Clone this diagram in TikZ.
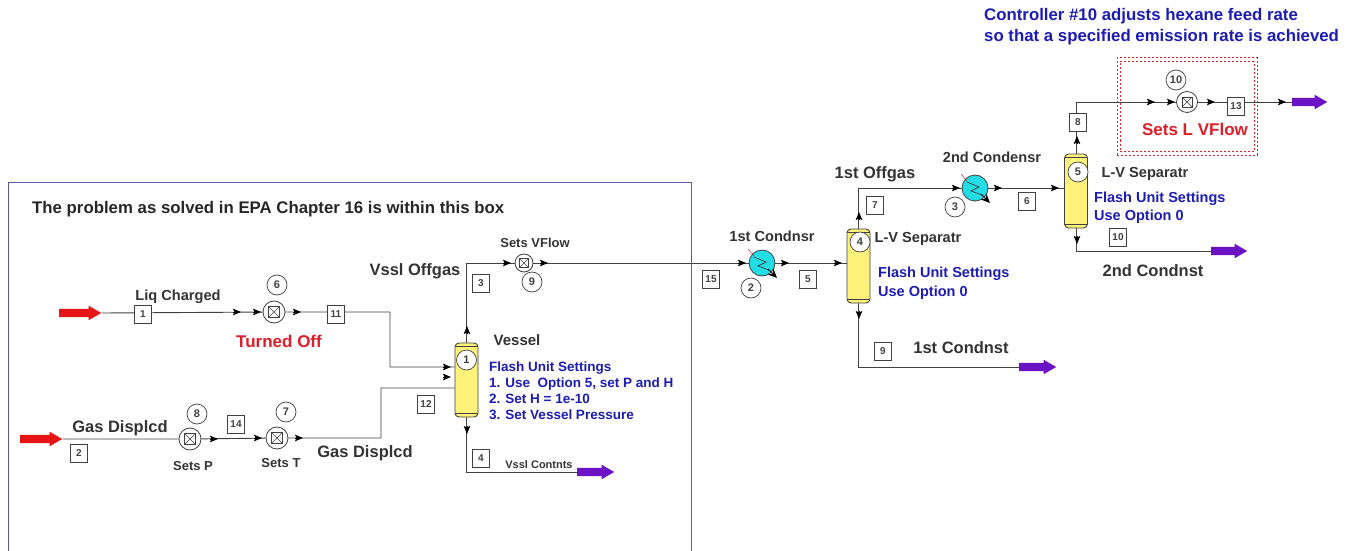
\documentclass[tikz,border=0pt]{standalone}
\usepackage{fontspec}
\setmainfont{Liberation Sans}
\usetikzlibrary{arrows.meta, backgrounds, shapes.arrows}
\definecolor{BoxB}  {HTML}{5A5AA8}
\definecolor{Note}  {HTML}{1C1CB4}
\definecolor{Warn}  {HTML}{DC1E28}
\definecolor{Feed}  {HTML}{E61414}
\definecolor{Prod}  {HTML}{6A12C4}
\definecolor{Shell} {HTML}{FFF27A}
\definecolor{Cool}  {HTML}{22DDE6}
\definecolor{LGray} {HTML}{404040}
\tikzset{
  ln/.style={line width=0.9pt, draw=LGray},
  flo/.style={-{Stealth[length=8pt,width=6.5pt,inset=1.5pt]}, line width=0.9pt, draw=black},
  sid/.style={
    rectangle, draw=LGray, fill=white, line width=0.8pt,
    font=\bfseries\fontsize{10}{11}\selectfont, text=LGray,
    minimum width=17pt, minimum height=18pt, inner sep=0pt,
  },
  uid/.style={
    circle, draw=LGray, fill=white, line width=0.7pt,
    font=\bfseries\fontsize{11}{12}\selectfont, text=LGray,
    minimum size=20pt, inner sep=0pt,
  },
  % valve with its crossed square
  vlv/.style={
    circle, draw=LGray, fill=white, line width=0.8pt,
    minimum size=#1, inner sep=0pt,
    path picture={
      \draw[line width=0.6pt] ([shift={(-0.24*#1,-0.24*#1)}]path picture bounding box.center)
        rectangle ([shift={(0.24*#1,0.24*#1)}]path picture bounding box.center);
      \draw[line width=0.5pt] ([shift={(-0.24*#1,-0.24*#1)}]path picture bounding box.center)
        -- ([shift={(0.24*#1,0.24*#1)}]path picture bounding box.center);
      \draw[line width=0.5pt] ([shift={(-0.24*#1,0.24*#1)}]path picture bounding box.center)
        -- ([shift={(0.24*#1,-0.24*#1)}]path picture bounding box.center);
    },
  },
  vssl/.style={
    rectangle, rounded corners=4pt, draw=LGray, fill=Shell, line width=0.9pt,
    minimum width=23pt, minimum height=74pt, inner sep=0pt,
    path picture={
      \draw[line width=0.6pt] ([yshift=-3.5pt]path picture bounding box.north west)
        -- ([yshift=-3.5pt]path picture bounding box.north east);
      \draw[line width=0.6pt] ([yshift=3.5pt]path picture bounding box.south west)
        -- ([yshift=3.5pt]path picture bounding box.south east);
    },
  },
  cnd/.style={
    circle, draw=LGray, fill=Cool, line width=0.8pt,
    minimum size=26pt, inner sep=0pt,
  },
  feedarr/.style={
    single arrow, draw=none, fill=#1, minimum height=42pt, minimum width=0pt,
    inner ysep=4pt, inner xsep=0pt, anchor=tail,
    single arrow head extend=3pt, single arrow tip angle=60,
  },
  big/.style={font=\bfseries\fontsize{16.5}{18}\selectfont, text=black!80, inner sep=0pt},
  sml/.style={font=\bfseries\fontsize{14.6}{16}\selectfont, text=black!80, inner sep=0pt},
  tny/.style={font=\bfseries\fontsize{13}{15}\selectfont, text=black!80, inner sep=0pt},
  setg/.style 2 args={font=\bfseries\fontsize{#1}{#2}\selectfont, text=Note, align=left, anchor=north west, inner sep=0pt},
  warn/.style={font=\bfseries\fontsize{17}{19}\selectfont, text=Warn, inner sep=0pt},
  dotbx/.style={draw=Warn, dash pattern=on 2pt off 2pt, line width=1pt, inner sep=0pt},
}
\begin{document}
\begin{tikzpicture}[x=1pt,y=-1pt]
  \useasboundingbox (0,0) rectangle (1357,551);

  % problem box, open at the bottom
  \coordinate (bxA) at (8,551);
  \coordinate (bxB) at (691,551);
  \draw[draw=BoxB, line width=1pt] (bxA) |- (691,182) -- (bxB);
  \node[font=\bfseries\fontsize{16.8}{18}\selectfont, text=black!85, anchor=west, inner sep=0pt] (ttl) at (32,209)
    {The problem as solved in EPA Chapter 16 is within this box};
  \node[setg={16.8}{21}] (ctlnote) at (984,8)
    {Controller \#10 adjusts hexane feed rate\\so that a specified emission rate is achieved};

  % feeds and products
  \node[feedarr=Feed] (fdA) at (59,313) {};
  \node[feedarr=Feed] (fdB) at (20,439) {};
  \node[feedarr=Prod, minimum height=37pt] (prA) at (577,472) {};
  \node[feedarr=Prod, minimum height=37pt] (prB) at (1019,367) {};
  \node[feedarr=Prod, minimum height=36pt] (prC) at (1211,251) {};
  \node[feedarr=Prod, minimum height=35pt] (prD) at (1292,102) {};

  % units
  \node[vssl] (vA) at (466.5,380) {};
  \node[vssl] (vB) at (858.5,266) {};
  \node[vssl] (vC) at (1076,191) {};
  \node[cnd] (cA) at (762,263) {};
  \node[cnd] (cB) at (975,188) {};
  \foreach \nm in {cA,cB}{
    \draw[red!80!black, line width=0.4pt] ([shift={(-14,-14)}]\nm.center) -- ([shift={(-8,-7)}]\nm.center);
    \draw[LGray, line width=0.7pt] ([shift={(-8,-6)}]\nm.center) -- ([shift={(4,-1)}]\nm.center)
      -- ([shift={(-4,3)}]\nm.center) -- ([shift={(7,7)}]\nm.center);
    \draw[black, line width=0.9pt, -{Stealth[length=9pt,width=8pt]}] ([shift={(6,6)}]\nm.center) -- ([shift={(15,15)}]\nm.center);
  }
  \node[vlv=22pt] (v6) at (274,312) {};
  \node[vlv=22pt] (v8) at (190,439) {};
  \node[vlv=22pt] (v7) at (277,438) {};
  \node[vlv=18pt] (v9) at (524,263) {};
  \node[vlv=21pt] (v10) at (1187,102) {};

  % unit numbers
  \foreach \nm/\lbl/\x/\y in {uA/1/466.5/360, uB/2/751/288, uC/3/955/207, uD/4/860/242,
    uE/5/1078/172, uF/6/277/285, uG/7/286/412, uH/8/197/414, uI/9/532/282, uJ/10/1176/80}{
    \node[uid] (\nm) at (\x,\y) {\lbl};
  }

  % stream numbers
  \foreach \nm/\lbl/\x/\y in {s1/1/143/314.5, s2/2/79/453, s3/3/481/283, s4/4/481/458, s5/5/808/279,
    s6/6/1027/201, s7/7/875/205, s8/8/1078/122, s9/9/883/351, s10/10/1118/237, s11/11/336/314,
    s12/12/426/404, s13/13/1236/106, s14/14/236/424, s15/15/711/279}{
    \node[sid] (\nm) at (\x,\y) {\lbl};
  }

  \node[dotbx, minimum width=140pt, minimum height=97pt] (rng) at (1187,106.5) {};
  \node[dotbx, minimum width=134pt, minimum height=90pt] (rngB) at (1187,106.5) {};

  % bends
  \coordinate (bA) at (390,367);
  \coordinate (bB) at (381,388);

  \begin{scope}[on background layer]
    \draw[ln] (fdA.tip) -- (v6) -- (v6 -| bA) -- (bA) -- (bA -| vA.west);
    \draw[ln] (fdB.tip) -- (v8) -- (v7) -- (v7 -| bB) -- (bB) -- (bB -| vA.west);
    \draw[ln] (vA.north) -- (vA |- v9) -- (v9) -- (cA) -- (vB.west |- cA);
    \draw[ln] (vA.south) |- (prA.tail);
    \draw[ln] (vB.north) -- (vB |- cB) -- (cB) -- (vC.west |- cB);
    \draw[ln] (vB.south) |- (prB.tail);
    \draw[ln] (vC.north) -- (vC |- v10) -- (v10) -- (prD.tail);
    \draw[ln] (vC.south) |- (prC.tail);
  \end{scope}

  % flow marks
  \foreach \x/\y in {237/312, 257/312, 297/312, 447/367, 447/377, 214/439, 258/438, 299/438,
    507/263, 544/263, 742/263, 785/263, 838/263, 956/188, 998/188, 1055/188,
    1151/102, 1171/102, 1211/102, 1282/102}{
    \draw[flo] (\x-4,\y) -- (\x+4,\y);
  }
  \foreach \x/\y in {467/330, 859/216, 1077/140}{
    \draw[flo] (\x,\y+4) -- (\x,\y-4);
  }
  \foreach \x/\y in {467/430, 859/315, 1077/240}{
    \draw[flo] (\x,\y-4) -- (\x,\y+4);
  }

  % stream names
  \node[sml] (nLiq) at (178,297) {Liq Charged};
  \node[big] (nGasA) at (120,428) {Gas Displcd};
  \node[big] (nGasB) at (365,453) {Gas Displcd};
  \node[big] (nOffA) at (415,271) {Vssl Offgas};
  \node[big] (nOffB) at (875,174) {1st Offgas};
  \node[big] (nCdA) at (961,348) {1st Condnst};
  \node[big] (nCdB) at (1153,271) {2nd Condnst};
  \node[font=\bfseries\fontsize{11}{12}\selectfont, text=black!80, inner sep=0pt] (nCont) at (539,465) {Vssl Contnts};

  % unit names
  \node[tny] (nSetP) at (193,466) {Sets P};
  \node[tny] (nSetT) at (281,463) {Sets T};
  \node[tny] (nSetV) at (535,243) {Sets VFlow};
  \node[sml, font=\bfseries\fontsize{15}{17}\selectfont] (nVes) at (517,340) {Vessel};
  \node[sml] (nSepA) at (918,239) {L-V Separatr};
  \node[sml] (nSepB) at (1145,174) {L-V Separatr};
  \node[sml] (nCnA) at (772,236) {1st Condnsr};
  \node[sml] (nCnB) at (992,157) {2nd Condensr};

  \node[warn] (nOff) at (279,341) {Turned Off};
  \node[warn] (nSetL) at (1195,129) {Sets L VFlow};

  % settings notes
  \node[setg={13.5}{16}] (fsA) at (489,362)
    {Flash Unit Settings\\1. Use\ \ Option 5, set P and H\\2. Set H = 1e-10\\3. Set Vessel Pressure};
  \node[setg={14.5}{19}] (fsB) at (878,267) {Flash Unit Settings\\Use Option 0};
  \node[setg={14.5}{18}] (fsC) at (1094,192) {Flash Unit Settings\\Use Option 0};
\end{tikzpicture}
\end{document}
